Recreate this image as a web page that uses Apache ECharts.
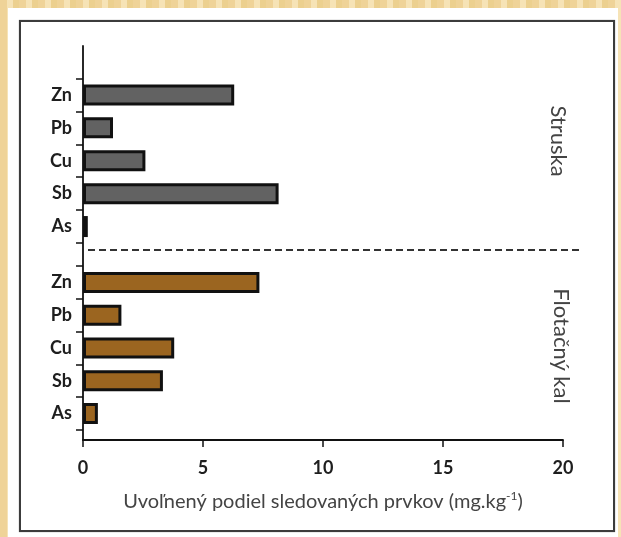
<!DOCTYPE html>
<html>
<head>
<meta charset="utf-8">
<script src="https://cdn.jsdelivr.net/npm/echarts@6/dist/echarts.min.js"></script>
<style>
html,body{margin:0;padding:0;width:621px;height:537px;overflow:hidden;}
body{background:repeating-linear-gradient(90deg,#efd398 0 7px,#f6e3b6 7px 13px,#ecd08f 13px 19px);position:relative;}
#white{position:absolute;left:8px;top:8px;width:610px;height:529px;background:#fff;}
#frame{position:absolute;left:19px;top:20px;width:596px;height:512px;box-sizing:border-box;border:2px solid #3c3c3c;box-shadow:0 0 1px #888;}
#chart{position:absolute;left:0;top:0;width:621px;height:537px;}
</style>
</head>
<body>
<div id="white"></div>
<div id="frame"></div>
<div id="chart"></div>
<script>
// ---- data ----
const categories = ['Zn', 'Pb', 'Cu', 'Sb', 'As'];
const struska = [6.3, 1.25, 2.6, 8.15, 0.2];
const flotacny = [7.35, 1.6, 3.8, 3.33, 0.62];
const xMin = 0, xMax = 20, xStep = 5;
const groupNames = ['Struska', 'Flotačný kal'];
const xTitle = 'Uvoľnený podiel sledovaných prvkov (mg.kg';
const xTitleSup = '-1';

// ---- layout ----
const L = 83, W = 480;
const mainTop = 46, mainBottom = 440;
const g1Top = 78.5, g1H = 164.5;
const g2Top = 266, g2H = 164;
const FONT = 'Lato, "Open Sans", sans-serif';

const chart = echarts.init(document.getElementById('chart'), null, {renderer: 'canvas'});

function catAxis(grid) {
  return {
    type: 'category', gridIndex: grid, data: categories, inverse: true,
    axisLine: {show: false},
    axisTick: {show: true, length: 7, lineStyle: {color: '#111', width: 1.5}},
    axisLabel: {margin: 11, fontFamily: FONT, fontWeight: 'bold', fontSize: 18, color: '#1e1e1e'},
    splitLine: {show: false}
  };
}
function hiddenX(grid) {
  return {type: 'value', gridIndex: grid, min: xMin, max: xMax, interval: xStep, show: false, splitLine: {show: false}};
}
const barStyle = (c) => ({color: c, borderColor: '#111', borderWidth: 3});

const option = {
  animation: false,
  grid: [
    {left: L, width: W, top: mainTop, height: mainBottom - mainTop},
    {left: L, width: W, top: g1Top, height: g1H},
    {left: L, width: W, top: g2Top, height: g2H}
  ],
  xAxis: [
    {
      type: 'value', gridIndex: 0, min: xMin, max: xMax, interval: xStep,
      axisLine: {show: true, lineStyle: {color: '#111', width: 1.8}},
      axisTick: {show: true, length: 7, lineStyle: {color: '#111', width: 1.5}},
      axisLabel: {margin: 19, fontFamily: FONT, fontWeight: 'bold', fontSize: 18, color: '#1e1e1e'},
      splitLine: {show: false},
      name: '{a|' + xTitle + '}{s|' + xTitleSup + '}{a|)}',
      nameLocation: 'middle', nameGap: 50,
      nameTextStyle: {
        rich: {
          a: {fontFamily: FONT, fontSize: 20, color: '#444', lineHeight: 24},
          s: {fontFamily: FONT, fontSize: 12, color: '#444', verticalAlign: 'top', lineHeight: 24}
        }
      }
    },
    hiddenX(1),
    hiddenX(2)
  ],
  yAxis: [
    {
      type: 'value', gridIndex: 0, min: 0, max: 1,
      axisLine: {show: true, lineStyle: {color: '#111', width: 1.8}},
      axisTick: {show: false}, axisLabel: {show: false}, splitLine: {show: false}
    },
    catAxis(1),
    catAxis(2)
  ],
  series: [
    {type: 'bar', xAxisIndex: 1, yAxisIndex: 1, data: struska, barWidth: 21, itemStyle: barStyle('#626262')},
    {type: 'bar', xAxisIndex: 2, yAxisIndex: 2, data: flotacny, barWidth: 21, itemStyle: barStyle('#9b6520')}
  ],
  graphic: [
    {
      type: 'line', silent: true,
      shape: {x1: 88, y1: 250, x2: 583, y2: 250},
      style: {stroke: '#333', lineWidth: 2, lineDash: [7, 4]}
    },
    {
      type: 'text', x: 558, y: 141, rotation: -Math.PI / 2,
      style: {text: groupNames[0], fontFamily: FONT, fontSize: 22, fill: '#444', align: 'center', verticalAlign: 'middle'}
    },
    {
      type: 'text', x: 561, y: 346, rotation: -Math.PI / 2,
      style: {text: groupNames[1], fontFamily: FONT, fontSize: 22, fill: '#444', align: 'center', verticalAlign: 'middle'}
    }
  ]
};
chart.setOption(option);
</script>
</body>
</html>
